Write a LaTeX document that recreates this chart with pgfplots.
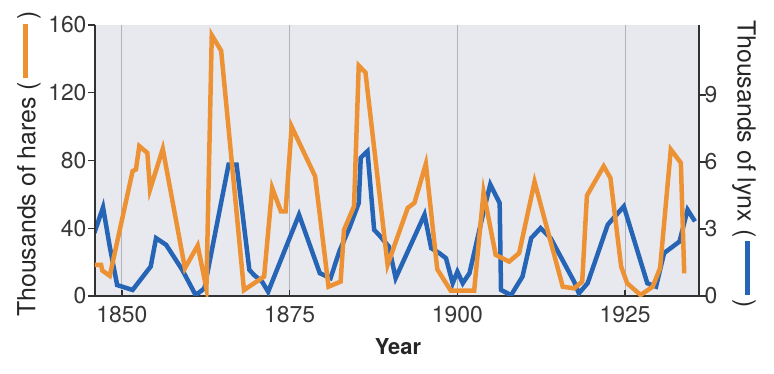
\documentclass[border=0pt]{standalone}
\usepackage{fontspec}
\setmainfont{TeX Gyre Heros}
\usepackage{pgfplots}
\pgfplotsset{compat=1.18}
\definecolor{hareC}{RGB}{236,146,52}
\definecolor{lynxC}{RGB}{38,101,181}
\definecolor{bgC}{RGB}{232,233,238}
\definecolor{gridC}{RGB}{178,178,184}
\definecolor{axC}{RGB}{50,50,50}
\definecolor{txtC}{RGB}{55,55,55}
\pgfplotsset{base/.style={at={(0,0)}, anchor=south west, scale only axis,
  width=604bp, height=271bp, xmin=1846, xmax=1936,
  axis line style={axC, line width=1.6bp},
  tick style={axC, line width=1.4bp}, major tick length=7bp,
  ticklabel style={font=\fontsize{23}{27}\selectfont, text=txtC},
  /pgf/number format/assume math mode=true,
  /pgf/number format/1000 sep={}}}
\begin{document}
\begin{tikzpicture}
\useasboundingbox (-95bp,-78bp) rectangle (679bp,296bp);
% lynx series, background, x axis
\begin{axis}[base, ymin=0, ymax=12.13,
  axis x line*=bottom, axis y line=none, ytick=\empty,
  xtick={1850,1875,1900,1925}, xmajorgrids,
  grid style={gridC, line width=0.9bp},
  tick align=inside, major tick length=6bp,
  xticklabel style={yshift=-7bp},
  axis background/.style={fill=bgC}]
\addplot[lynxC, line width=4.5bp] table {
1845.9 2.82
1847.2 3.97
1848.2 2.21
1849.3 0.49
1851.6 0.27
1854.3 1.32
1855.1 2.59
1856.6 2.29
1859.0 1.17
1861.0 0.04
1862.3 0.34
1865.9 5.88
1867.1 5.88
1869.0 1.17
1869.7 0.94
1870.9 0.64
1871.8 0.19
1876.4 3.64
1879.5 1.02
1881.1 0.80
1882.4 1.99
1883.9 3.04
1885.3 4.16
1885.6 6.19
1886.6 6.48
1887.6 2.96
1888.3 2.74
1889.8 2.21
1890.8 0.80
1895.1 3.64
1896.1 2.14
1897.3 1.92
1898.3 1.69
1899.3 0.57
1900.0 1.09
1900.8 0.57
1901.8 1.02
1903.8 3.64
1904.9 4.99
1906.3 4.16
1906.5 0.27
1908.0 0.04
1909.7 0.87
1911.0 2.59
1912.4 3.04
1913.9 2.59
1917.4 0.64
1918.1 0.12
1919.4 0.57
1922.4 3.19
1924.8 4.01
1928.3 0.57
1929.6 0.42
1930.8 1.92
1933.1 2.44
1934.3 3.86
1935.4 3.34
};
\end{axis}
% right y axis (lynx)
\begin{axis}[base, ymin=0, ymax=12.13,
  axis y line*=right, axis x line=none, xtick=\empty,
  ytick={0,3,6,9}, tick align=outside,
  yticklabel style={xshift=-5bp}]
\addplot[draw=none] coordinates {(1850,0)};
\end{axis}
% hares series, left y axis
\begin{axis}[base, ymin=0, ymax=160,
  axis y line*=left, axis x line=none, xtick=\empty,
  ytick={0,40,80,120,160}, tick align=outside,
  yticklabel style={xshift=2bp}]
\addplot[hareC, line width=4.5bp] table {
1845.9 18.4
1846.9 18.4
1847.1 15.0
1848.2 11.9
1851.6 73.7
1852.1 74.7
1852.6 88.5
1853.8 84.5
1854.2 62.8
1856.1 86.9
1859.4 16.4
1861.3 29.8
1862.6 4.5
1863.4 154.0
1864.8 144.8
1868.2 3.5
1871.2 11.5
1872.4 63.8
1873.7 50.0
1874.4 50.0
1875.3 100.0
1878.8 70.7
1880.8 5.5
1882.6 8.5
1883.1 39.0
1884.6 53.0
1885.3 136.0
1886.3 132.0
1889.6 18.4
1892.6 52.0
1893.6 55.0
1895.3 78.0
1897.0 15.8
1899.0 3.2
1902.5 3.2
1903.9 61.2
1905.7 24.3
1907.7 20.3
1909.2 25.3
1911.5 67.4
1915.7 5.5
1917.4 4.5
1918.6 8.5
1919.3 59.3
1921.8 76.6
1922.8 69.7
1924.4 17.4
1925.3 7.5
1927.3 0.6
1929.1 5.5
1930.2 16.4
1931.8 86.5
1933.3 78.6
1933.8 13.4
};
\end{axis}
\node[rotate=90, font=\fontsize{25}{29}\selectfont, text=black!85, inner sep=0pt]
  at (-66bp,132bp) {Thousands of hares (\,{\color{hareC}\rule[0.31em]{54bp}{4.5bp}}\,)};
\node[rotate=-90, font=\fontsize{25}{29}\selectfont, text=black!85, inner sep=0pt]
  at (649bp,132bp) {Thousands of lynx (\,{\color{lynxC}\rule[0.31em]{54bp}{4.5bp}}\,)};
\node[font=\bfseries\fontsize{22}{26}\selectfont, text=black!85, inner sep=0pt]
  at (303bp,-51bp) {Year};
\end{tikzpicture}
\end{document}
